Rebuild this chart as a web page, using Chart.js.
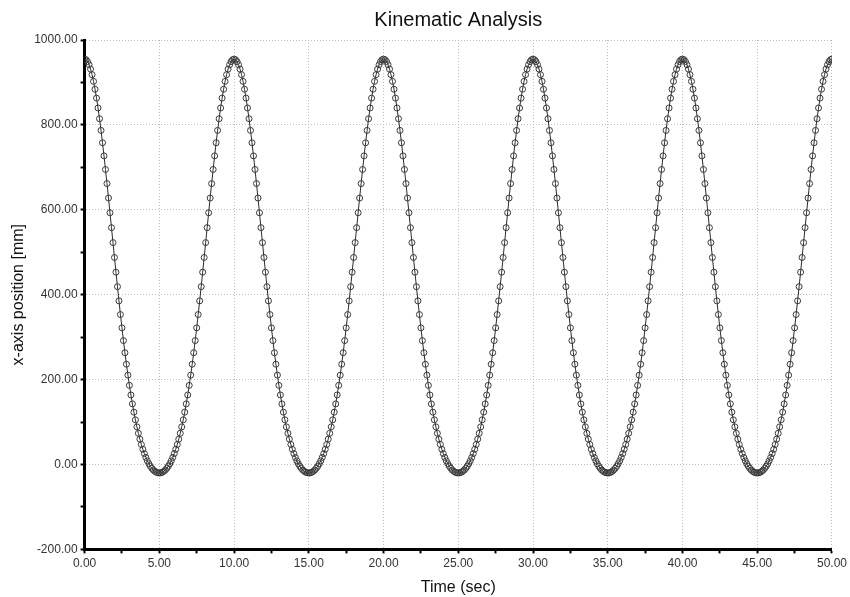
<!DOCTYPE html>
<html lang="en">
<head>
    <meta charset="UTF-8">
    <title>Kinematic Analysis</title>
    <script src="https://cdn.jsdelivr.net/npm/chart.js"></script>
    <style>
        html, body {
            margin: 0;
            padding: 0;
            background: #ffffff;
        }
        #kinematicChart {
            display: block;
        }
    </style>
</head>
<body>
    <canvas id="kinematicChart" width="850" height="597"></canvas>

    <script>
        // samples every 0.1 sec from 0 to 50 sec
        const timeStep = 0.1;

        // x-axis position [mm]
        const xPosition = [
            955.0, 953.5, 949.1, 941.7, 931.4, 918.3, 902.5, 884.0, 863.1, 839.9,
            814.5, 787.0, 757.9, 727.1, 695.0, 661.8, 627.7, 593.0, 557.9, 522.7,
            487.7, 453.0, 418.9, 385.5, 353.2, 321.9, 291.9, 263.3, 236.2, 210.5,
            186.4, 163.8, 142.8, 123.3, 105.3, 88.7, 73.5, 59.7, 47.1, 35.8,
            25.7, 16.7, 8.7, 1.8, -4.1, -9.0, -13.0, -16.1, -18.3, -19.6,
            -20.0, -19.6, -18.3, -16.1, -13.0, -9.0, -4.1, 1.8, 8.7, 16.7,
            25.7, 35.8, 47.1, 59.7, 73.5, 88.7, 105.3, 123.3, 142.8, 163.8,
            186.4, 210.5, 236.2, 263.3, 291.9, 321.9, 353.2, 385.5, 418.9, 453.0,
            487.7, 522.7, 557.9, 593.0, 627.7, 661.8, 695.0, 727.1, 757.9, 787.0,
            814.5, 839.9, 863.1, 884.0, 902.5, 918.3, 931.4, 941.7, 949.1, 953.5,
            955.0, 953.5, 949.1, 941.7, 931.4, 918.3, 902.5, 884.0, 863.1, 839.9,
            814.5, 787.0, 757.9, 727.1, 695.0, 661.8, 627.7, 593.0, 557.9, 522.7,
            487.7, 453.0, 418.9, 385.5, 353.2, 321.9, 291.9, 263.3, 236.2, 210.5,
            186.4, 163.8, 142.8, 123.3, 105.3, 88.7, 73.5, 59.7, 47.1, 35.8,
            25.7, 16.7, 8.7, 1.8, -4.1, -9.0, -13.0, -16.1, -18.3, -19.6,
            -20.0, -19.6, -18.3, -16.1, -13.0, -9.0, -4.1, 1.8, 8.7, 16.7,
            25.7, 35.8, 47.1, 59.7, 73.5, 88.7, 105.3, 123.3, 142.8, 163.8,
            186.4, 210.5, 236.2, 263.3, 291.9, 321.9, 353.2, 385.5, 418.9, 453.0,
            487.7, 522.7, 557.9, 593.0, 627.7, 661.8, 695.0, 727.1, 757.9, 787.0,
            814.5, 839.9, 863.1, 884.0, 902.5, 918.3, 931.4, 941.7, 949.1, 953.5,
            955.0, 953.5, 949.1, 941.7, 931.4, 918.3, 902.5, 884.0, 863.1, 839.9,
            814.5, 787.0, 757.9, 727.1, 695.0, 661.8, 627.7, 593.0, 557.9, 522.7,
            487.7, 453.0, 418.9, 385.5, 353.2, 321.9, 291.9, 263.3, 236.2, 210.5,
            186.4, 163.8, 142.8, 123.3, 105.3, 88.7, 73.5, 59.7, 47.1, 35.8,
            25.7, 16.7, 8.7, 1.8, -4.1, -9.0, -13.0, -16.1, -18.3, -19.6,
            -20.0, -19.6, -18.3, -16.1, -13.0, -9.0, -4.1, 1.8, 8.7, 16.7,
            25.7, 35.8, 47.1, 59.7, 73.5, 88.7, 105.3, 123.3, 142.8, 163.8,
            186.4, 210.5, 236.2, 263.3, 291.9, 321.9, 353.2, 385.5, 418.9, 453.0,
            487.7, 522.7, 557.9, 593.0, 627.7, 661.8, 695.0, 727.1, 757.9, 787.0,
            814.5, 839.9, 863.1, 884.0, 902.5, 918.3, 931.4, 941.7, 949.1, 953.5,
            955.0, 953.5, 949.1, 941.7, 931.4, 918.3, 902.5, 884.0, 863.1, 839.9,
            814.5, 787.0, 757.9, 727.1, 695.0, 661.8, 627.7, 593.0, 557.9, 522.7,
            487.7, 453.0, 418.9, 385.5, 353.2, 321.9, 291.9, 263.3, 236.2, 210.5,
            186.4, 163.8, 142.8, 123.3, 105.3, 88.7, 73.5, 59.7, 47.1, 35.8,
            25.7, 16.7, 8.7, 1.8, -4.1, -9.0, -13.0, -16.1, -18.3, -19.6,
            -20.0, -19.6, -18.3, -16.1, -13.0, -9.0, -4.1, 1.8, 8.7, 16.7,
            25.7, 35.8, 47.1, 59.7, 73.5, 88.7, 105.3, 123.3, 142.8, 163.8,
            186.4, 210.5, 236.2, 263.3, 291.9, 321.9, 353.2, 385.5, 418.9, 453.0,
            487.7, 522.7, 557.9, 593.0, 627.7, 661.8, 695.0, 727.1, 757.9, 787.0,
            814.5, 839.9, 863.1, 884.0, 902.5, 918.3, 931.4, 941.7, 949.1, 953.5,
            955.0, 953.5, 949.1, 941.7, 931.4, 918.3, 902.5, 884.0, 863.1, 839.9,
            814.5, 787.0, 757.9, 727.1, 695.0, 661.8, 627.7, 593.0, 557.9, 522.7,
            487.7, 453.0, 418.9, 385.5, 353.2, 321.9, 291.9, 263.3, 236.2, 210.5,
            186.4, 163.8, 142.8, 123.3, 105.3, 88.7, 73.5, 59.7, 47.1, 35.8,
            25.7, 16.7, 8.7, 1.8, -4.1, -9.0, -13.0, -16.1, -18.3, -19.6,
            -20.0, -19.6, -18.3, -16.1, -13.0, -9.0, -4.1, 1.8, 8.7, 16.7,
            25.7, 35.8, 47.1, 59.7, 73.5, 88.7, 105.3, 123.3, 142.8, 163.8,
            186.4, 210.5, 236.2, 263.3, 291.9, 321.9, 353.2, 385.5, 418.9, 453.0,
            487.7, 522.7, 557.9, 593.0, 627.7, 661.8, 695.0, 727.1, 757.9, 787.0,
            814.5, 839.9, 863.1, 884.0, 902.5, 918.3, 931.4, 941.7, 949.1, 953.5,
            955.0
        ];

        // axis ranges and ticks (majors get labels + grid, minors only a tick mark)
        const xTicks = { min: 0, max: 50, step: 2.5, major: 5 };
        const yTicks = { min: -200, max: 1000, step: 100, major: 200 };

        const points = xPosition.map((v, i) => ({ x: +(i * timeStep).toFixed(1), y: v }));

        const isMajor = (value, major) => Math.abs(value / major - Math.round(value / major)) < 1e-6;

        const fontFamily = "'Liberation Sans', Arial, sans-serif";

        const ctx = document.getElementById("kinematicChart").getContext("2d");
        new Chart(ctx, {
            type: "line",
            data: {
                datasets: [{
                    label: "x-axis position",
                    data: points,
                    borderColor: "#2b2b2b",
                    borderWidth: 1,
                    tension: 0,
                    pointRadius: 3,
                    pointBorderWidth: 1,
                    pointBorderColor: "#3a3a3a",
                    pointBackgroundColor: "rgba(255,255,255,0)",
                    fill: false
                }]
            },
            options: {
                responsive: false,
                animation: false,
                layout: {
                    padding: { left: 4, right: 4, top: 0, bottom: 0 }
                },
                plugins: {
                    legend: { display: false },
                    tooltip: { enabled: false },
                    title: {
                        display: true,
                        fullSize: false,  // centre over the plot area
                        text: "Kinematic Analysis",
                        color: "#111",
                        font: { family: fontFamily, size: 20, weight: "normal" },
                        padding: { top: 8, bottom: 8 }
                    }
                },
                scales: {
                    x: {
                        type: "linear",
                        min: xTicks.min,
                        max: xTicks.max,
                        title: {
                            display: true,
                            text: "Time (sec)",
                            color: "#111",
                            font: { family: fontFamily, size: 16 },
                            padding: { top: 4, bottom: 0 }
                        },
                        ticks: {
                            stepSize: xTicks.step,
                            autoSkip: false,
                            maxRotation: 0,
                            padding: 3,
                            color: "#333",
                            font: { family: fontFamily, size: 12 },
                            callback: v => isMajor(v, xTicks.major) ? v.toFixed(2) : ""
                        },
                        grid: {
                            color: c => (c.tick && isMajor(c.tick.value, xTicks.major)) ? "#bdbdbd" : "rgba(0,0,0,0)",
                            lineWidth: 1,
                            tickColor: "#000",
                            tickLength: 4,
                            tickWidth: 2
                        },
                        border: {
                            display: true,
                            color: "#000",
                            width: 3,
                            dash: [1, 2]
                        }
                    },
                    y: {
                        type: "linear",
                        min: yTicks.min,
                        max: yTicks.max,
                        title: {
                            display: true,
                            text: "x-axis position [mm]",
                            color: "#111",
                            font: { family: fontFamily, size: 16 },
                            padding: { top: 5, bottom: 3 }
                        },
                        ticks: {
                            stepSize: yTicks.step,
                            autoSkip: false,
                            padding: 3,
                            color: "#333",
                            font: { family: fontFamily, size: 12 },
                            callback: v => isMajor(v, yTicks.major) ? v.toFixed(2) : ""
                        },
                        grid: {
                            color: c => (c.tick && isMajor(c.tick.value, yTicks.major)) ? "#bdbdbd" : "rgba(0,0,0,0)",
                            lineWidth: 1,
                            tickColor: "#000",
                            tickLength: 4,
                            tickWidth: 2
                        },
                        border: {
                            display: true,
                            color: "#000",
                            width: 3,
                            dash: [1, 2]
                        }
                    }
                }
            }
        });
    </script>
</body>
</html>
